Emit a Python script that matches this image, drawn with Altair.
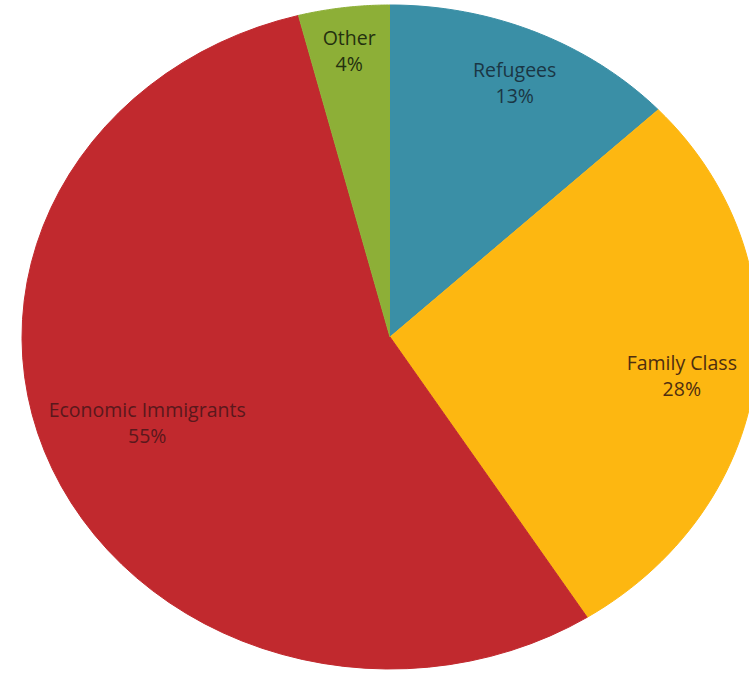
import altair as alt
import pandas as pd

categories = ["Refugees", "Family Class", "Economic Immigrants", "Other"]
shares = [13, 28, 55, 4]
slice_order = [0, 1, 2, 3]

slice_colors = ["#3A8FA6", "#FDB711", "#C1292E", "#8DAF37"]
text_colors = ["#1A3644", "#4E2E10", "#5A181C", "#24300F"]

df = pd.DataFrame({"category": categories, "share": shares, "order": slice_order})

xdom = [-390 / 368, 359 / 368]
ydom = [-336 / 332, 337 / 332]

base = alt.Chart(df).transform_window(
    cum="sum(share)", sort=[alt.SortField("order")], frame=[None, 0]
).transform_joinaggregate(total="sum(share)").transform_calculate(
    a0="2*PI*(datum.cum-datum.share)/datum.total",
    a1="2*PI*datum.cum/datum.total",
)

xs = alt.Scale(domain=xdom, nice=False, zero=False)
ys = alt.Scale(domain=ydom, nice=False, zero=False)

wedges = base.transform_calculate(
    pts="sequence(0, 62)"
).transform_flatten(["pts"], as_=["k"]).transform_calculate(
    a="datum.a0 + (datum.a1 - datum.a0) * clamp((datum.k - 1) / 60, 0, 1)"
).transform_calculate(
    px="datum.k == 0 ? 0 : sin(datum.a)",
    py="datum.k == 0 ? 0 : cos(datum.a)",
).mark_line(clip=True, strokeWidth=1, interpolate="linear").encode(
    x=alt.X("px:Q", scale=xs, axis=None),
    y=alt.Y("py:Q", scale=ys, axis=None),
    order=alt.Order("k:Q"),
    color=alt.Color("category:N", scale=alt.Scale(domain=categories, range=slice_colors), legend=None),
    fill=alt.Fill("category:N", scale=alt.Scale(domain=categories, range=slice_colors), legend=None),
)

# label distance from centre shrinks for larger slices (best-fit style placement)
labels = base.transform_calculate(
    mid="(datum.a0 + datum.a1) / 2 + (datum.share > 50 ? 0.06 : 0)",
    lr="0.9 - 0.0036 * datum.share",
).transform_calculate(
    lx="datum.lr * sin(datum.mid)",
    ly="datum.lr * cos(datum.mid)",
    label="datum.category + '\\n' + datum.share + '%'",
).mark_text(
    lineBreak="\n", font="Open Sans", fontSize=19.5, lineHeight=26, align="center",
    baseline="middle", dy=-6, clip=True
).encode(
    x=alt.X("lx:Q", scale=xs, axis=None),
    y=alt.Y("ly:Q", scale=ys, axis=None),
    text="label:N",
    color=alt.Color("category:N", scale=alt.Scale(domain=categories, range=text_colors), legend=None),
)

chart = alt.layer(wedges, labels).resolve_scale(color="independent").properties(
    width=749, height=673, autosize=alt.AutoSizeParams(type="none"), padding=0, background="white"
).configure_view(stroke=None)

chart.save("out.html", embed_options={"renderer": "svg", "actions": False})
